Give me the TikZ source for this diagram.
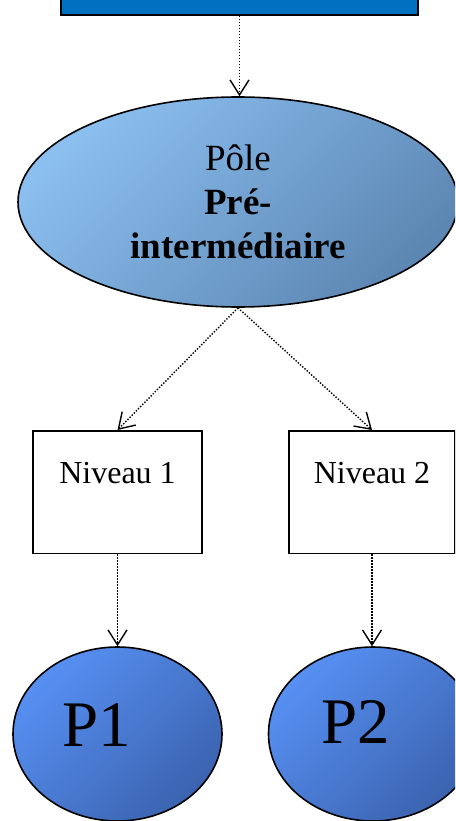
\documentclass[tikz,border=0pt]{standalone}
\usepackage{fontspec}
\setmainfont{Liberation Serif}
\usepackage{xcolor}
\usepackage{tikz}
\usetikzlibrary{shapes.geometric,arrows.meta}

\definecolor{barblue}{HTML}{0070C0}
\definecolor{polelight}{HTML}{8BBFF0}
\definecolor{poledark}{HTML}{5D87B3}
\definecolor{plight}{HTML}{5790F3}
\definecolor{pdark}{HTML}{3B63AF}

\begin{document}
\begin{tikzpicture}[x=1pt,y=-1pt,
	fleche/.style={line width=1.4pt,dash pattern=on 1.4pt off 1.6pt,
		-{Straight Barb[length=15pt,width=19pt,line width=1.4pt]}},
	pole/.style={ellipse,draw,line width=1.6pt,inner sep=0pt,
		minimum width=440pt,minimum height=210pt,align=center,
		top color=polelight,bottom color=poledark,shading angle=45,
		font=\fontsize{37}{44}\selectfont},
	boite/.style={rectangle,draw,line width=1.6pt,fill=white,inner sep=0pt,anchor=north,
		text height=53pt,text depth=69.5pt,font=\fontsize{32}{38}\selectfont},
	pcercle/.style={ellipse,draw,line width=1.6pt,inner sep=0pt,
		minimum width=209pt,minimum height=174pt,
		top color=plight,bottom color=pdark,shading angle=45},
	ptexte/.style={anchor=base,inner sep=0pt,font=\fontsize{65}{78}\selectfont}]
	\clip (0,0) rectangle (455,821);
	
	\node[draw,line width=1.8pt,fill=barblue,inner sep=0pt,
		minimum width=357pt,minimum height=40pt] (bar) at (239.5,-5) {};
	
	\node[pole] (pole) at (238,202) {P\^ole\\\textbf{Pré-}\\\textbf{intermédiaire}};
	
	\foreach \i/\x/\w in {1/117.5/169,2/372/166}
	\node[boite,minimum width=\w pt] (niv\i) at (\x,430) {Niveau \i};
	
	\foreach \i/\x/\dx/\dy in {1/117.5/-21/-12,2/373/-17.5/-9}{
		\node[pcercle] (p\i) at (\x,734) {};
		\node[ptexte] (t\i) at ([xshift=\dx pt,yshift=\dy pt]p\i.center) {P\i};
	}
	
	\draw[fleche] (bar.south) -- (bar.south |- pole.north);
	\foreach \i in {1,2}
	\draw[fleche] (pole.south) -- (niv\i.north);
	\foreach \i in {1,2}
	\draw[fleche] (niv\i.south) -- (niv\i.south |- p\i.north);
\end{tikzpicture}
\end{document}
